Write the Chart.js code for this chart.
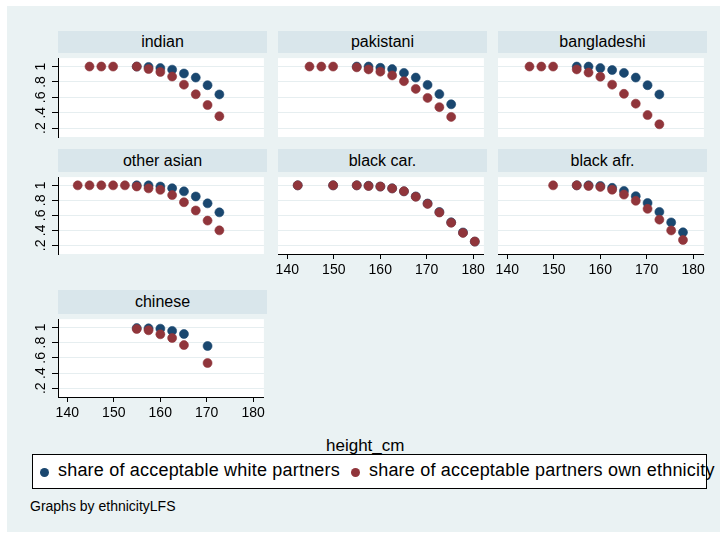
<!DOCTYPE html>
<html>
<head>
<meta charset="utf-8">
<script src="https://cdn.jsdelivr.net/npm/chart.js@4"></script>
<style>
  html, body { margin: 0; padding: 0; background: #ffffff; }
  body { width: 725px; height: 533px; position: relative; overflow: hidden;
         font-family: "Liberation Sans", Arial, sans-serif; color: #000; }
  #bg { position: absolute; left: 7px; top: 6px; width: 713px; height: 526px; background: #eaf2f3; }
  .strip { position: absolute; background: #d9e6eb; text-align: center; font-size: 16px; }
  canvas { position: absolute; }
  .lbl { position: absolute; white-space: nowrap; }
  #legend { position: absolute; left: 32px; top: 454px; width: 673px; height: 33px;
            border: 1px solid #000; background: #fff; }
  #legend .lbl { letter-spacing: 0.2px; }
  .dot { position: absolute; width: 9px; height: 9px; border-radius: 50%; }
</style>
</head>
<body>
<div id="bg"></div>
<div id="panels"></div>
<div class="lbl" style="left:326px; top:436px; font-size:17px;">height_cm</div>
<div id="legend">
  <div class="dot" style="left:7px; top:13px; background:#1a476f;"></div>
  <div class="lbl" style="left:25px; top:5px; font-size:18px;">share of acceptable white partners</div>
  <div class="dot" style="left:318px; top:13px; background:#90353b;"></div>
  <div class="lbl" style="left:336px; top:5px; font-size:18px;">share of acceptable partners own ethnicity</div>
</div>
<div class="lbl" style="left:30px; top:498px; font-size:14px;">Graphs by ethnicityLFS</div>

<script>
// ---- data ----
const panelNames = ['indian', 'pakistani', 'bangladeshi', 'other asian', 'black car.', 'black afr.', 'chinese'];

const indianHeights = [144.78, 147.32, 149.86, 154.94, 157.48, 160.02, 162.56, 165.1, 167.64, 170.18, 172.72];
const indianWhite   = [null, null, null, 1.0, 0.995, 0.98, 0.96, 0.91, 0.857, 0.758, 0.638];
const indianOwn     = [1.0, 1.0, 1.0, 1.0, 0.968, 0.93, 0.87, 0.765, 0.64, 0.50, 0.355];

const pakistaniHeights = [144.78, 147.32, 149.86, 154.94, 157.48, 160.02, 162.56, 165.1, 167.64, 170.18, 172.72, 175.26];
const pakistaniWhite   = [null, null, null, 1.0, 1.0, 0.984, 0.967, 0.918, 0.857, 0.762, 0.642, 0.51];
const pakistaniOwn     = [1.0, 1.0, 1.0, 0.99, 0.963, 0.934, 0.885, 0.81, 0.71, 0.593, 0.473, 0.346];

const bangladeshiHeights = [144.78, 147.32, 149.86, 154.94, 157.48, 160.02, 162.56, 165.1, 167.64, 170.18, 172.72];
const bangladeshiWhite   = [null, null, null, 1.0, 1.0, 0.98, 0.955, 0.918, 0.857, 0.758, 0.638];
const bangladeshiOwn     = [1.0, 1.0, 1.0, 0.963, 0.922, 0.868, 0.765, 0.646, 0.518, 0.37, 0.25];

const otherAsianHeights = [142.24, 144.78, 147.32, 149.86, 152.4, 154.94, 157.48, 160.02, 162.56, 165.1, 167.64, 170.18, 172.72];
const otherAsianWhite   = [null, null, null, null, null, 1.0, 1.0, 0.985, 0.962, 0.92, 0.852, 0.76, 0.64];
const otherAsianOwn     = [1.0, 1.0, 1.0, 1.0, 1.0, 0.985, 0.96, 0.94, 0.87, 0.775, 0.665, 0.53, 0.40];

const blackCarHeights = [142.24, 149.86, 154.94, 157.48, 160.02, 162.56, 165.1, 167.64, 170.18, 172.72, 175.26, 177.8, 180.34];
const blackCarWhite   = [1.0, 1.0, 1.0, 0.995, 0.984, 0.96, 0.92, 0.852, 0.758, 0.645, 0.507, 0.372, 0.25];
const blackCarOwn     = [1.0, 1.0, 1.0, 0.992, 0.984, 0.959, 0.922, 0.848, 0.753, 0.638, 0.502, 0.366, 0.251];

const blackAfrHeights = [149.86, 154.94, 157.48, 160.02, 162.56, 165.1, 167.64, 170.18, 172.72, 175.26, 177.8];
const blackAfrWhite   = [null, 1.0, 1.0, 0.992, 0.967, 0.926, 0.856, 0.765, 0.646, 0.506, 0.374];
const blackAfrOwn     = [1.0, 1.0, 0.992, 0.979, 0.942, 0.877, 0.794, 0.687, 0.543, 0.399, 0.272];

const chineseHeights = [154.94, 157.48, 160.02, 162.56, 165.1, 170.18];
const chineseWhite   = [0.992, 0.988, 0.984, 0.955, 0.914, 0.756];
const chineseOwn     = [0.98, 0.963, 0.91, 0.862, 0.768, 0.532];

const xTicks = [140, 150, 160, 170, 180];
const yTicks = [0.2, 0.4, 0.6, 0.8, 1];
const yTickLabels = ['.2', '.4', '.6', '.8', '1'];

const seriesNames = ['share of acceptable white partners', 'share of acceptable partners own ethnicity'];

// ---- layout ----
const BLUE = '#1a476f', RED = '#90353b';
const FONT = '"Liberation Sans", Arial, sans-serif';
const colLeft = [58, 278, 498];
const plotW = 209;
const rows = [ { strip: 31, top: 53, h: 84 }, { strip: 149, top: 172, h: 82 }, { strip: 290, top: 314, h: 83 } ];
const AX = 50, AXB = 28, PR = 2;

const panels = [
    { heights: indianHeights,      white: indianWhite,      own: indianOwn,      row: 0, col: 0, yAxis: true,  xAxis: false },
    { heights: pakistaniHeights,   white: pakistaniWhite,   own: pakistaniOwn,   row: 0, col: 1, yAxis: false, xAxis: false },
    { heights: bangladeshiHeights, white: bangladeshiWhite, own: bangladeshiOwn, row: 0, col: 2, yAxis: false, xAxis: false },
    { heights: otherAsianHeights,  white: otherAsianWhite,  own: otherAsianOwn,  row: 1, col: 0, yAxis: true,  xAxis: false },
    { heights: blackCarHeights,    white: blackCarWhite,    own: blackCarOwn,    row: 1, col: 1, yAxis: false, xAxis: true },
    { heights: blackAfrHeights,    white: blackAfrWhite,    own: blackAfrOwn,    row: 1, col: 2, yAxis: false, xAxis: true },
    { heights: chineseHeights,     white: chineseWhite,     own: chineseOwn,     row: 2, col: 0, yAxis: true,  xAxis: true }
];

function toPoints(xs, ys) {
    const out = [];
    xs.forEach(function (x, i) { if (ys[i] !== null) out.push({ x: x, y: ys[i] }); });
    return out;
}

const plotBg = {
    id: 'plotBg',
    beforeDraw: function (chart) {
        const a = chart.chartArea, ctx = chart.ctx;
        ctx.save();
        ctx.fillStyle = '#ffffff';
        ctx.fillRect(a.left, a.top, a.right - a.left, a.bottom - a.top);
        ctx.restore();
    }
};

// Stata writes the y labels turned on their side
const yLabels = {
    id: 'yLabels',
    afterDraw: function (chart, args, opts) {
        if (!opts.show) return;
        const ctx = chart.ctx, y = chart.scales.y;
        ctx.save();
        ctx.fillStyle = '#000';
        ctx.font = '14px ' + FONT;
        ctx.textAlign = 'center';
        ctx.textBaseline = 'middle';
        yTicks.forEach(function (v, i) {
            ctx.save();
            ctx.translate(chart.chartArea.left - 17, y.getPixelForValue(v));
            ctx.rotate(-Math.PI / 2);
            ctx.fillText(yTickLabels[i], 0, 0);
            ctx.restore();
        });
        ctx.restore();
    }
};

const holder = document.getElementById('panels');

panels.forEach(function (p, k) {
    const r = rows[p.row], left = colLeft[p.col];

    const strip = document.createElement('div');
    strip.className = 'strip';
    strip.style.left = left + 'px';
    strip.style.top = r.strip + 'px';
    strip.style.width = plotW + 'px';
    strip.style.height = (r.top - r.strip) + 'px';
    strip.style.lineHeight = (r.top - r.strip) + 'px';
    strip.textContent = panelNames[k];
    holder.appendChild(strip);

    const cv = document.createElement('canvas');
    const w = AX + plotW + PR, h = r.h + AXB;
    cv.width = w; cv.height = h;
    cv.style.left = (left - AX) + 'px';
    cv.style.top = r.top + 'px';
    cv.style.width = w + 'px';
    cv.style.height = h + 'px';
    holder.appendChild(cv);

    new Chart(cv, {
        type: 'scatter',
        data: {
            datasets: [ {
                label: seriesNames[0],
                data: toPoints(p.heights, p.white),
                backgroundColor: BLUE,
                borderColor: BLUE,
                order: 2
            }, {
                label: seriesNames[1],
                data: toPoints(p.heights, p.own),
                backgroundColor: RED,
                borderColor: RED,
                order: 1
            } ]
        },
        options: {
            responsive: false,
            animation: false,
            devicePixelRatio: 1,
            layout: { padding: { left: 0, right: PR, top: 0, bottom: 0 } },
            elements: { point: { radius: 4.5, borderWidth: 0.6, hoverRadius: 4.5 } },
            plugins: {
                legend: { display: false },
                tooltip: { enabled: false },
                yLabels: { show: p.yAxis }
            },
            scales: {
                x: {
                    type: 'linear',
                    min: 138, max: 182.3,
                    afterBuildTicks: function (s) { s.ticks = xTicks.map(function (v) { return { value: v }; }); },
                    afterFit: function (s) { s.height = AXB; },
                    grid: p.xAxis
                        ? { drawOnChartArea: false, drawTicks: true, tickLength: 5, tickColor: '#000' }
                        : { display: false },
                    border: { display: p.xAxis, color: '#000', width: 1 },
                    ticks: {
                        display: p.xAxis,
                        autoSkip: false, maxRotation: 0,
                        padding: 3,
                        color: '#000',
                        font: { family: FONT, size: 14 }
                    }
                },
                y: {
                    type: 'linear',
                    min: 0.085, max: 1.11,
                    afterBuildTicks: function (s) { s.ticks = yTicks.map(function (v) { return { value: v }; }); },
                    afterFit: function (s) { s.width = AX; },
                    grid: {
                        color: '#e6eef0',
                        lineWidth: 1,
                        drawTicks: p.yAxis,
                        tickLength: 6,
                        tickColor: '#000'
                    },
                    border: { display: p.yAxis, color: '#000', width: 1 },
                    ticks: { display: false }
                }
            }
        },
        plugins: [ plotBg, yLabels ]
    });
});
</script>
</body>
</html>
